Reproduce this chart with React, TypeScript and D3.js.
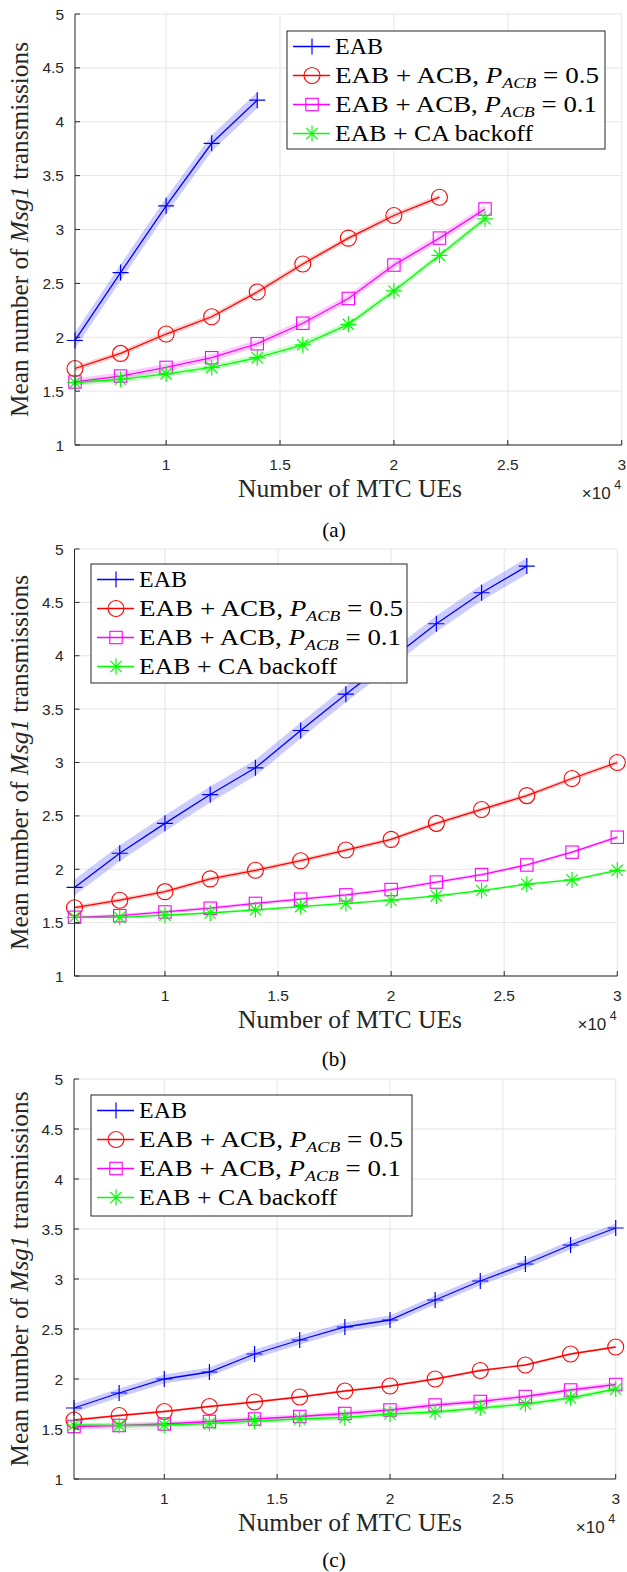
import * as d3 from "d3";

// x values (number of MTC UEs)
const xA = [6000, 8000, 10000, 12000, 14000, 16000, 18000, 20000, 22000, 24000];
const xFull = [6000, 8000, 10000, 12000, 14000, 16000, 18000, 20000, 22000, 24000, 26000, 28000, 30000];

// panel (a)
const eabA = [1.97, 2.6, 3.22, 3.8, 4.2];
const acb05A = [1.71, 1.85, 2.03, 2.19, 2.42, 2.68, 2.92, 3.13, 3.3];
const acb01A = [1.585, 1.64, 1.72, 1.81, 1.94, 2.13, 2.36, 2.67, 2.92, 3.19];
const caA = [1.58, 1.61, 1.66, 1.72, 1.81, 1.93, 2.12, 2.43, 2.76, 3.1];
const bandA = [0.075, 0.025, 0.035, 0.03];

// panel (b)
const eabB = [1.83, 2.15, 2.43, 2.7, 2.95, 3.3, 3.64, 3.97, 4.3, 4.59, 4.84];
const acb05B = [1.64, 1.71, 1.79, 1.91, 1.99, 2.08, 2.18, 2.28, 2.43, 2.56, 2.69, 2.85, 3.0];
const acb01B = [1.55, 1.565, 1.6, 1.635, 1.68, 1.72, 1.76, 1.81, 1.88, 1.95, 2.04, 2.16, 2.3];
const caB = [1.55, 1.55, 1.57, 1.59, 1.62, 1.65, 1.68, 1.71, 1.75, 1.8, 1.86, 1.9, 1.99];
const bandB = [0.075, 0.02, 0.015, 0.012];

// panel (c)
const eabC = [1.71, 1.86, 2.0, 2.07, 2.25, 2.39, 2.52, 2.59, 2.79, 2.98, 3.15, 3.34, 3.51];
const acb05C = [1.59, 1.635, 1.675, 1.725, 1.77, 1.82, 1.88, 1.93, 2.0, 2.085, 2.14, 2.25, 2.32];
const acb01C = [1.525, 1.535, 1.55, 1.575, 1.6, 1.625, 1.655, 1.69, 1.74, 1.775, 1.825, 1.89, 1.945];
const caC = [1.54, 1.535, 1.54, 1.555, 1.58, 1.6, 1.615, 1.65, 1.67, 1.71, 1.75, 1.81, 1.9];
const bandC = [0.045, 0.012, 0.025, 0.025];

const xTicks = [10000, 15000, 20000, 25000, 30000];
const xTickLabels = ["1", "1.5", "2", "2.5", "3"];
const yTicks = [1, 1.5, 2, 2.5, 3, 3.5, 4, 4.5, 5];

const colors = ["#0000ff", "#ff0000", "#ff00ff", "#00ff00"];
const markers = ["plus", "circle", "square", "star"];
const legendWidths = [48, 264, 262, 198];

const SERIF = "'Liberation Serif', 'Times New Roman', serif";
const SANS = "'Liberation Sans', Arial, Helvetica, sans-serif";
const AX = "#262626";

interface Box { x: number; y: number; w: number; h: number }
interface PanelDef {
  top: number;
  bottom: number;
  left: number;
  right: number;
  legend: Box;
  title: string;
  titleY: number;
  xs: number[];
  series: number[][];
  bands: number[];
}

const panels: PanelDef[] = [
  { top: 14, bottom: 445, left: 75, right: 621.7, legend: { x: 287, y: 31, w: 318, h: 118 }, title: "(a)", titleY: 537, xs: xA, series: [eabA, acb05A, acb01A, caA], bands: bandA },
  { top: 549, bottom: 976, left: 74.5, right: 617.3, legend: { x: 91, y: 564, w: 316, h: 119 }, title: "(b)", titleY: 1066, xs: xFull, series: [eabB, acb05B, acb01B, caB], bands: bandB },
  { top: 1079, bottom: 1479, left: 74, right: 615.7, legend: { x: 91, y: 1095, w: 321, h: 121 }, title: "(c)", titleY: 1567, xs: xFull, series: [eabC, acb05C, acb01C, caC], bands: bandC },
];

function Marker({ kind, x, y, color }: { kind: string; x: number; y: number; color: string }) {
  const s = 8;
  if (kind === "circle") return <circle cx={x} cy={y} r={8} fill="none" stroke={color} strokeWidth={1.1} />;
  if (kind === "square") return <rect x={x - 6.2} y={y - 6.2} width={12.4} height={12.4} fill="none" stroke={color} strokeWidth={1.1} />;
  if (kind === "plus") return <path d={`M${x - s},${y}H${x + s}M${x},${y - s}V${y + s}`} stroke={color} strokeWidth={1.2} fill="none" />;
  const d = 5.6;
  return (
    <path
      d={`M${x - s},${y}H${x + s}M${x},${y - s}V${y + s}M${x - d},${y - d}L${x + d},${y + d}M${x - d},${y + d}L${x + d},${y - d}`}
      stroke={color}
      strokeWidth={1.2}
      fill="none"
    />
  );
}

function LegendText({ i }: { i: number }) {
  if (i === 0) return <>EAB</>;
  if (i === 3) return <>EAB + CA backoff</>;
  return (
    <>
      EAB + ACB, <tspan fontStyle="italic">P</tspan>
      <tspan fontStyle="italic" fontSize={15} dy={5}>ACB</tspan>
      <tspan dy={-5}> = {i === 1 ? "0.5" : "0.1"}</tspan>
    </>
  );
}

function Panel({ p }: { p: PanelDef }) {
  const x = d3.scaleLinear().domain([6000, 30000]).range([p.left, p.right]);
  const y = d3.scaleLinear().domain([1, 5]).range([p.bottom, p.top]);
  const line = d3.line<[number, number]>().x((d) => x(d[0])).y((d) => y(d[1]));
  const midY = (p.top + p.bottom) / 2;

  return (
    <g>
      {/* grid */}
      {xTicks.map((t) => (
        <line key={"gx" + t} x1={x(t)} x2={x(t)} y1={p.top} y2={p.bottom} stroke="#e5e5e5" strokeWidth={1} />
      ))}
      {yTicks.map((t) => (
        <line key={"gy" + t} x1={p.left} x2={p.right} y1={y(t)} y2={y(t)} stroke="#e5e5e5" strokeWidth={1} />
      ))}

      {/* confidence bands */}
      {p.series.map((vals, si) => {
        const band = d3
          .area<number>()
          .x((_, i) => x(p.xs[i]))
          .y0((v) => y(v - p.bands[si]))
          .y1((v) => y(v + p.bands[si]));
        return <path key={"b" + si} d={band(vals) || ""} fill={colors[si]} fillOpacity={0.2} stroke="none" />;
      })}

      {/* lines and markers */}
      {p.series.map((vals, si) => {
        const pts = vals.map((v, i) => [p.xs[i], v] as [number, number]);
        return (
          <g key={"s" + si}>
            <path d={line(pts) || ""} fill="none" stroke={colors[si]} strokeWidth={1.3} />
            {pts.map((d, i) => (
              <Marker key={i} kind={markers[si]} x={x(d[0])} y={y(d[1])} color={colors[si]} />
            ))}
          </g>
        );
      })}

      {/* axes */}
      <line x1={p.left} x2={p.right} y1={p.bottom} y2={p.bottom} stroke={AX} strokeWidth={1} />
      <line x1={p.left} x2={p.left} y1={p.top} y2={p.bottom} stroke={AX} strokeWidth={1} />
      {xTicks.map((t, i) => (
        <g key={"xt" + t}>
          <line x1={x(t)} x2={x(t)} y1={p.bottom} y2={p.bottom - 5} stroke={AX} strokeWidth={1} />
          <text x={x(t)} y={p.bottom + 25} textAnchor="middle" fontFamily={SANS} fontSize={15.5} fill={AX}>
            {xTickLabels[i]}
          </text>
        </g>
      ))}
      {yTicks.map((t) => (
        <g key={"yt" + t}>
          <line x1={p.left} x2={p.left + 5} y1={y(t)} y2={y(t)} stroke={AX} strokeWidth={1} />
          <text x={p.left - 11} y={y(t) + 5.5} textAnchor="end" fontFamily={SANS} fontSize={15.5} fill={AX}>
            {d3.format("")(t)}
          </text>
        </g>
      ))}

      {/* x10^4 */}
      <text x={p.right - 11} y={p.bottom + 54} textAnchor="end" fontFamily={SANS} fontSize={17} fill={AX}>
        ×10
      </text>
      <text x={p.right - 4} y={p.bottom + 44} textAnchor="middle" fontFamily={SANS} fontSize={12.5} fill={AX}>
        4
      </text>

      {/* axis labels */}
      <text x={350} y={p.bottom + 52} textAnchor="middle" fontFamily={SERIF} fontSize={25} fill={AX} textLength={224} lengthAdjust="spacingAndGlyphs">
        Number of MTC UEs
      </text>
      <text
        transform={`translate(28,${midY}) rotate(-90)`}
        textAnchor="middle"
        fontFamily={SERIF}
        fontSize={25}
        fill={AX}
        textLength={375}
        lengthAdjust="spacingAndGlyphs"
      >
        Mean number of <tspan fontStyle="italic">Msg1</tspan> transmissions
      </text>

      {/* legend */}
      <rect x={p.legend.x} y={p.legend.y} width={p.legend.w} height={p.legend.h} fill="#fff" stroke={AX} strokeWidth={1} />
      {colors.map((c, i) => {
        const ry = p.legend.y + 15.5 + i * 29;
        return (
          <g key={"lg" + i}>
            <line x1={p.legend.x + 6} x2={p.legend.x + 43} y1={ry} y2={ry} stroke={c} strokeWidth={1.3} />
            <Marker kind={markers[i]} x={p.legend.x + 25} y={ry} color={c} />
            <text
              x={p.legend.x + 48}
              y={ry + 7.5}
              fontFamily={SERIF}
              fontSize={22.5}
              fill="#000"
              textLength={legendWidths[i]}
              lengthAdjust="spacingAndGlyphs"
            >
              <LegendText i={i} />
            </text>
          </g>
        );
      })}

      {/* subfigure title */}
      <text x={334} y={p.titleY} textAnchor="middle" fontFamily={SERIF} fontSize={21} fill="#000">
        {p.title}
      </text>
    </g>
  );
}

export default function App() {
  return (
    <div style={{ position: "absolute", left: 0, top: 0 }}>
      <svg width={627} height={1572} style={{ display: "block", background: "#fff" }}>
        {panels.map((p, i) => (
          <Panel key={i} p={p} />
        ))}
      </svg>
    </div>
  );
}
